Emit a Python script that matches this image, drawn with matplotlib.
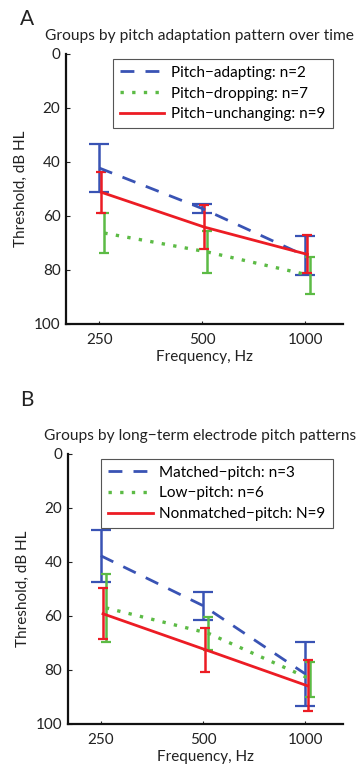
import matplotlib
matplotlib.use("Agg")
import matplotlib.pyplot as plt

plt.rcParams['font.family'] = ['Lato', 'DejaVu Sans']

freqs = [250, 500, 1000]

# panel A: groups by pitch adaptation pattern
a_labels = ["Pitch\u2212adapting: n=2", "Pitch\u2212dropping: n=7", "Pitch\u2212unchanging: n=9"]
a_means = [[42.3, 57.3, 74.8], [66.4, 73.4, 82.1], [51.3, 64.2, 74.3]]
a_errs = [[8.9, 1.7, 7.2], [7.5, 7.8, 6.8], [7.5, 8.2, 7.0]]

# panel B: groups by long-term electrode pitch pattern
b_labels = ["Matched\u2212pitch: n=3", "Low\u2212pitch: n=6", "Nonmatched\u2212pitch: N=9"]
b_means = [[37.8, 56.3, 81.6], [57.1, 66.5, 83.5], [59.3, 72.6, 86.0]]
b_errs = [[9.6, 5.2, 12.0], [12.5, 6.1, 6.5], [9.5, 8.1, 9.4]]

colors = ["#3953b4", "#5cbb45", "#ec1c24"]
styles = [(0, (5, 4)), (0, (1, 2.5)), "-"]
shifts = [1.0, 1.035, 1.015]
caps = [7.0, 3.5, 3.5]

fig = plt.figure(figsize=(3.61, 7.69), dpi=100)


def panel(rect, means, errs, labels, title, letter, letter_y):
    ax = fig.add_axes(rect)
    handles = []
    for i in range(3):
        xs = [f * shifts[i] for f in freqs]
        ax.errorbar(xs, means[i], yerr=errs[i], fmt="none", ecolor=colors[i],
                    elinewidth=1.8, capsize=caps[i], capthick=1.6, zorder=2 + i)
    for i in [0, 1, 2]:
        xs = [f * shifts[i] for f in freqs]
        h, = ax.plot(xs, means[i], color=colors[i], linestyle=styles[i],
                     lw=2.0 if i != 1 else 2.4, zorder=5 + i, label=labels[i])
        handles.append(h)
    ax.set_xscale("log")
    ax.set_xlim(200, 1290)
    ax.set_xticks(freqs)
    ax.set_xticklabels([str(f) for f in freqs])
    ax.minorticks_off()
    ax.set_ylim(100, 0)
    ax.set_yticks([0, 20, 40, 60, 80, 100])
    ax.tick_params(direction="in", length=3, labelsize=11, colors="#222222", pad=4)
    ax.tick_params(axis="x", length=2, pad=7)
    for s in ["top", "right"]:
        ax.spines[s].set_visible(False)
    for s in ["left", "bottom"]:
        ax.spines[s].set_linewidth(1.6)
        ax.spines[s].set_color("#111111")
    ax.set_xlabel("Frequency, Hz", fontsize=11, color="#222222", labelpad=2)
    ax.set_ylabel("Threshold, dB HL", fontsize=11, color="#222222", labelpad=4)
    ax.set_title(title, fontsize=11.2, color="#222222", pad=10, x=0.48)
    leg = ax.legend(handles=handles, loc="upper right", fontsize=11,
                    bbox_to_anchor=(0.99, 1.01), fancybox=False, framealpha=1,
                    edgecolor="#555555", handlelength=2.9, labelspacing=0.45,
                    borderpad=0.45, handletextpad=0.45)
    leg.get_frame().set_linewidth(0.8)
    fig.text(0.055, letter_y, letter, fontsize=15, color="#222222", va="center")
    return ax


panel([0.183, 0.579, 0.767, 0.351], a_means, a_errs, a_labels,
      "Groups by pitch adaptation pattern over time", "A", 0.975)
panel([0.188, 0.059, 0.762, 0.351], b_means, b_errs, b_labels,
      "Groups by long\u2212term electrode pitch patterns", "B", 0.480)

fig.savefig("out.png", dpi=100)
